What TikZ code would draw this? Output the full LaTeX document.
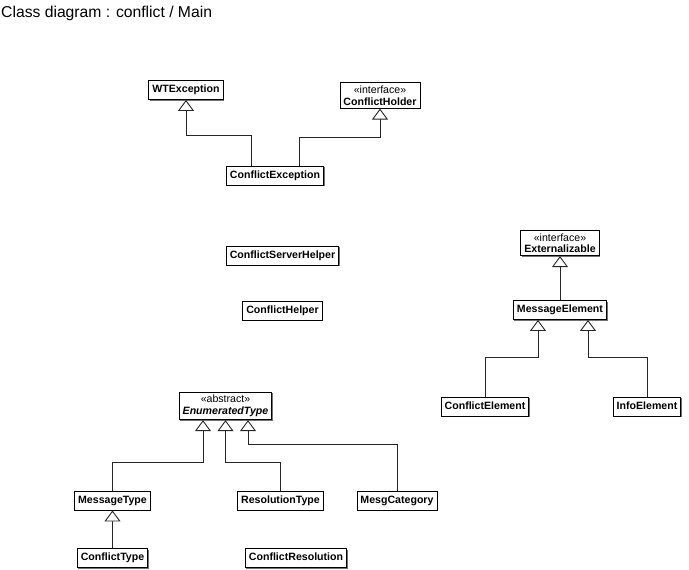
\documentclass[tikz,border=0pt]{standalone}
\usepackage{fontspec}
\setmainfont{Liberation Sans}
\usetikzlibrary{arrows.meta,shadows}
\begin{document}
\begin{tikzpicture}[x=1pt,y=-1pt,
  cls/.style={draw=black,line width=0.9pt,fill=white,
    drop shadow={shadow xshift=1pt,shadow yshift=-1pt,fill=black!55,opacity=1},
    font=\fontsize{10.6}{12}\selectfont\bfseries,
    inner xsep=3.5pt,inner ysep=4.3pt,text height=8pt,text depth=2.4pt},
  stereo/.style={draw=black,line width=0.9pt,fill=white,
    drop shadow={shadow xshift=1pt,shadow yshift=-1pt,fill=black!55,opacity=1},
    font=\fontsize{10.6}{11.5}\selectfont,align=center,
    inner xsep=3.5pt,inner ysep=3pt},
  inh/.style={draw=black!85,line width=0.9pt,
    -{Triangle[length=11pt,width=16pt,fill=white]}},
]
\useasboundingbox (0,0) rectangle (689,570);

% title
\node[anchor=base west,inner sep=0,font=\fontsize{15.7}{18}\selectfont]
  (title) at (1,17) {Class diagram : conflict / Main};

% exception hierarchy
\node[cls] (wt) at (186,90) {WTException};
\node[stereo] (ch) at (380,95.5) {«interface»\\\textbf{ConflictHolder}};
\node[cls] (ce) at (275,175.5) {ConflictException};

% helpers
\node[cls] (csh) at (282.5,255.5) {ConflictServerHelper};
\node[cls] (chl) at (282.5,310.5) {ConflictHelper};

% message elements
\node[stereo] (ext) at (560,243) {«interface»\\\textbf{Externalizable}};
\node[cls] (me) at (560,310) {MessageElement};
\node[cls] (cel) at (485,406.5) {ConflictElement};
\node[cls] (ie) at (647,406.5) {InfoElement};

% enumerated types
\node[stereo] (et) at (225.5,406) {«abstract»\\\textbf{\itshape EnumeratedType}};
\node[cls] (mt) at (112.5,500.5) {MessageType};
\node[cls] (rt) at (280.5,500.5) {ResolutionType};
\node[cls] (mc) at (397,500.5) {MesgCategory};
\node[cls] (ct) at (112.5,558) {ConflictType};
\node[cls] (cr) at (296,558) {ConflictResolution};

% generalizations
\draw[inh] ([xshift=-24pt]ce.north) -- ++(0,-30) -| (wt.south);
\draw[inh] ([xshift=24pt]ce.north) -- ++(0,-28) -| (ch.south);

\draw[inh] (me.north) -- (ext.south);
\draw[inh] (cel.north) -- ++(0,-39) -| ([xshift=-22pt]me.south);
\draw[inh] (ie.north) -- ++(0,-39) -| ([xshift=28pt]me.south);

\draw[inh] (mt.north) -- ++(0,-28) -| ([xshift=-22.5pt]et.south);
\draw[inh] (rt.north) -- ++(0,-28) -| (et.south);
\draw[inh] (mc.north) -- ++(0,-46) -| ([xshift=22.5pt]et.south);
\draw[inh] (ct.north) -- (mt.south);
\end{tikzpicture}
\end{document}
